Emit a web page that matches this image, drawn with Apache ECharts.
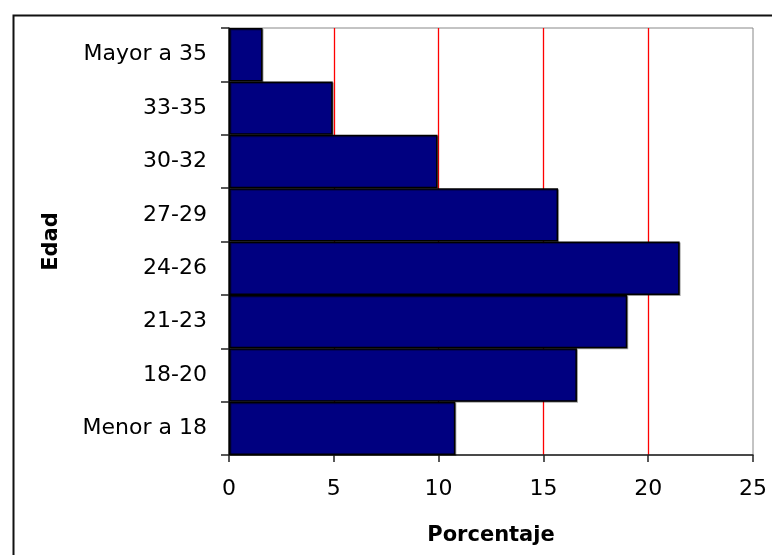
<!DOCTYPE html>
<html>
<head>
<meta charset="utf-8">
<script src="https://cdn.jsdelivr.net/npm/echarts@6/dist/echarts.min.js"></script>
<style>
  html, body { margin: 0; padding: 0; background: #fff; }
  #chart { width: 772px; height: 555px; }
</style>
</head>
<body>
<div id="chart"></div>
<script>
// grupos de edad (de abajo hacia arriba)
const edades = ['Menor a 18', '18-20', '21-23', '24-26', '27-29', '30-32', '33-35', 'Mayor a 35'];
// porcentaje por grupo
const porcentajes = [10.8, 16.6, 19.0, 21.5, 15.7, 9.95, 4.95, 1.6];

const fuente = 'DejaVu Sans';

const chart = echarts.init(document.getElementById('chart'));

const option = {
    backgroundColor: '#fff',
    animation: false,
    graphic: [{
        type: 'rect',
        left: 11,
        top: 13,
        shape: { width: 800, height: 600 },
        style: { fill: 'none', stroke: '#111', lineWidth: 2 },
        silent: true
    }],
    grid: {
        left: 229,
        top: 28,
        right: 19,
        bottom: 100,
        show: true,
        borderColor: '#888',
        borderWidth: 1
    },
    xAxis: {
        type: 'value',
        min: 0,
        max: 25,
        interval: 5,
        name: 'Porcentaje',
        nameLocation: 'middle',
        nameGap: 70,
        nameTextStyle: { fontFamily: fuente, fontSize: 21, fontWeight: 'bold', color: '#000' },
        axisLine: { show: true, lineStyle: { color: '#222', width: 1.5 } },
        axisTick: { show: true, length: 7, lineStyle: { color: '#222', width: 1.5 } },
        axisLabel: { fontFamily: fuente, fontSize: 22, color: '#000', margin: 23 },
        splitLine: {
            show: true,
            showMinLine: false,
            showMaxLine: false,
            lineStyle: { color: '#ff0000', width: 1.3 }
        }
    },
    yAxis: {
        type: 'category',
        data: edades,
        name: 'Edad',
        nameLocation: 'middle',
        nameGap: 167,
        nameRotate: 90,
        nameTextStyle: { fontFamily: fuente, fontSize: 21, fontWeight: 'bold', color: '#000' },
        axisLine: { show: true, lineStyle: { color: '#222', width: 1.5 } },
        axisTick: { show: true, length: 8, lineStyle: { color: '#222', width: 1.5 } },
        axisLabel: { fontFamily: fuente, fontSize: 22, color: '#000', margin: 22 },
        splitLine: { show: false }
    },
    series: [{
        type: 'bar',
        data: porcentajes,
        barCategoryGap: 0,
        itemStyle: {
            color: '#000080',
            borderColor: '#000',
            borderWidth: 1.5,
            shadowColor: 'rgba(0,0,0,0.35)',
            shadowOffsetX: 1,
            shadowOffsetY: 1
        }
    }]
};

chart.setOption(option);
</script>
</body>
</html>
